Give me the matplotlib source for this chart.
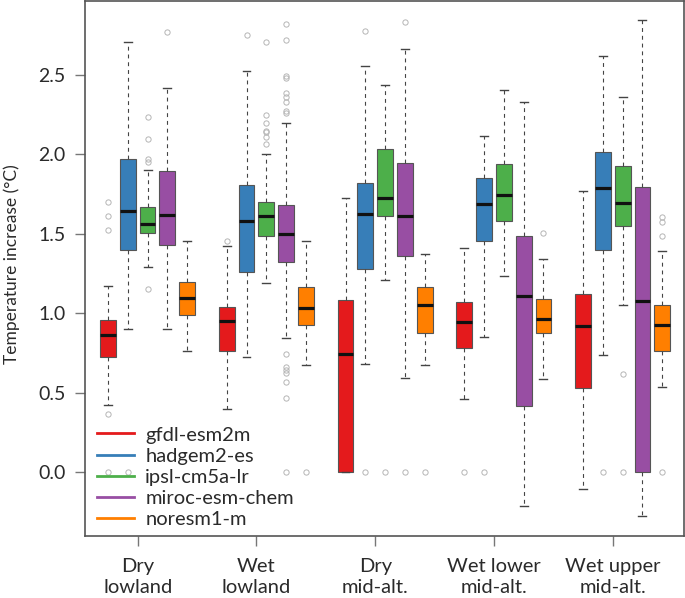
import matplotlib
matplotlib.use("Agg")
import matplotlib.pyplot as plt
from matplotlib.lines import Line2D

# regions along x, models within each region
regions = ["Dry\nlowland", "Wet\nlowland", "Dry\nmid-alt.", "Wet lower\nmid-alt.", "Wet upper\nmid-alt."]
models = ["gfdl-esm2m", "hadgem2-es", "ipsl-cm5a-lr", "miroc-esm-chem", "noresm1-m"]
colors = ["#E41A1C", "#377EB8", "#4DAF4A", "#984EA3", "#FF7F00"]

# box statistics (rows = regions, cols = models)
q1 = [
    [0.726, 1.396, 1.503, 1.427, 0.987],
    [0.762, 1.259, 1.484, 1.324, 0.928],
    [0.000, 1.278, 1.614, 1.362, 0.877],
    [0.779, 1.453, 1.583, 0.416, 0.873],
    [0.527, 1.396, 1.549, 0.000, 0.760],
]
med = [
    [0.865, 1.642, 1.560, 1.616, 1.094],
    [0.951, 1.579, 1.610, 1.497, 1.033],
    [0.741, 1.625, 1.727, 1.612, 1.052],
    [0.943, 1.690, 1.746, 1.107, 0.961],
    [0.917, 1.786, 1.692, 1.077, 0.926],
]
q3 = [
    [0.960, 1.973, 1.669, 1.895, 1.195],
    [1.037, 1.807, 1.698, 1.683, 1.167],
    [1.083, 1.822, 2.032, 1.948, 1.163],
    [1.071, 1.851, 1.940, 1.486, 1.089],
    [1.121, 2.013, 1.925, 1.797, 1.050],
]
whislo = [
    [0.420, 0.898, 1.293, 0.898, 0.764],
    [0.397, 0.724, 1.190, 0.844, 0.672],
    [0.000, 0.682, 1.209, 0.590, 0.674],
    [0.460, 0.852, 1.236, -0.212, 0.584],
    [-0.107, 0.737, 1.052, -0.277, 0.533],
]
whishi = [
    [1.170, 2.710, 1.902, 2.416, 1.457],
    [1.425, 2.527, 2.000, 2.198, 1.453],
    [1.727, 2.559, 2.439, 2.662, 1.371],
    [1.413, 2.116, 2.407, 2.328, 1.343],
    [1.772, 2.620, 2.360, 2.846, 1.394],
]
fliers = [
    [[1.70, 1.614, 1.524, 0.365, 0.0], [0.0], [2.235, 2.097, 1.969, 1.95, 1.152], [2.773], []],
    [[1.457], [2.75], [2.708, 2.25, 2.2, 2.149, 2.14, 2.112, 2.066],
     [2.821, 2.722, 2.494, 2.48, 2.389, 2.36, 2.328, 2.273, 2.262,
      0.741, 0.659, 0.642, 0.621, 0.569, 0.464, 0.0], [0.0]],
    [[], [2.775, 0.0], [0.0], [2.832, 0.0], [0.0]],
    [[0.0], [0.0], [], [], [1.507]],
    [[], [0.0], [0.615, 0.0], [], [1.604, 1.576, 1.488, 0.0]],
]

plt.rcParams["font.family"] = ["Lato", "DejaVu Sans"]
plt.rcParams["text.color"] = "#2a2a2a"

fig = plt.figure(figsize=(6.85, 5.98), dpi=100)
ax = fig.add_axes([85 / 685, 1 - 536 / 598, 599 / 685, 535 / 598])

stats, positions, facecols = [], [], []
for g in range(len(regions)):
    for m in range(len(models)):
        stats.append(dict(q1=q1[g][m], med=med[g][m], q3=q3[g][m],
                          whislo=whislo[g][m], whishi=whishi[g][m],
                          fliers=fliers[g][m]))
        positions.append(6 * g + m + 1)
        facecols.append(colors[m])

bp = ax.bxp(stats, positions=positions, widths=0.8, capwidths=0.4,
            patch_artist=True, showfliers=True,
            boxprops=dict(edgecolor="#555555", linewidth=0.8),
            medianprops=dict(color="#111111", linewidth=2.3, solid_capstyle="butt"),
            whiskerprops=dict(color="#444444", linewidth=0.8, linestyle=(0, (3.5, 3.5))),
            capprops=dict(color="#444444", linewidth=1.0),
            flierprops=dict(marker="o", markerfacecolor="none",
                            markeredgecolor="#b5b5b5", markersize=3.8,
                            markeredgewidth=0.7))
for patch, c in zip(bp["boxes"], facecols):
    patch.set_facecolor(c)

ax.set_xlim(-0.16, 30.1)
ax.set_ylim(-0.403, 2.966)
ax.set_yticks([0.0, 0.5, 1.0, 1.5, 2.0, 2.5])
ax.set_yticklabels(["0.0", "0.5", "1.0", "1.5", "2.0", "2.5"])
ax.set_xticks([6 * g + 2.5 for g in range(len(regions))])
ax.set_xticklabels(regions, linespacing=1.25)

for s in ax.spines.values():
    s.set_color("#555555")
    s.set_linewidth(1.2)
ax.tick_params(axis="both", length=7, width=1.0, color="#777777",
               labelsize=14, labelcolor="#2a2a2a", pad=7)
ax.tick_params(axis="x", pad=9, labelsize=14.5)

fig.text(12 / 685, 1 - 264 / 598, "Temperature increase (°C)", rotation=90,
         ha="center", va="center", fontsize=12.5, color="#2a2a2a")

handles = [Line2D([], [], color=c, linewidth=2) for c in colors]
ax.legend(handles, models, loc="lower left", frameon=False, fontsize=14.5,
          bbox_to_anchor=(12 / 599, 8 / 535), borderpad=0, borderaxespad=0,
          handlelength=1.85, handletextpad=0.55, labelspacing=0.2)

fig.savefig("out.png", dpi=100)
